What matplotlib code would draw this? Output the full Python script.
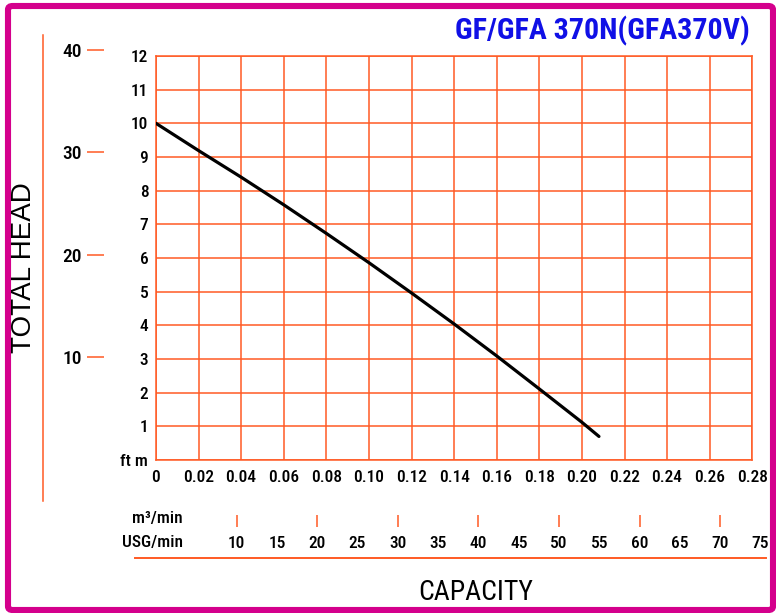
import matplotlib
matplotlib.use('Agg')
import matplotlib.pyplot as plt
from matplotlib.lines import Line2D
from matplotlib.patches import FancyBboxPatch

# ---------------- data ----------------
flow_m3min = [0.0, 0.02, 0.04, 0.06, 0.08, 0.10, 0.12, 0.14, 0.16, 0.18, 0.20, 0.208]
head_m = [10.0, 9.19, 8.40, 7.58, 6.73, 5.86, 4.96, 4.04, 3.09, 2.11, 1.12, 0.70]

x_ticks = [0, 0.02, 0.04, 0.06, 0.08, 0.10, 0.12, 0.14, 0.16, 0.18, 0.20, 0.22, 0.24, 0.26, 0.28]
x_tick_labels = ['0', '0.02', '0.04', '0.06', '0.08', '0.10', '0.12', '0.14', '0.16',
                 '0.18', '0.20', '0.22', '0.24', '0.26', '0.28']
y_ticks = [0, 1, 2, 3, 4, 5, 6, 7, 8, 9, 10, 11, 12]
y_tick_labels = ['ft m', '1', '2', '3', '4', '5', '6', '7', '8', '9', '10', '11', '12']
ft_ticks = [10, 20, 30, 40]
usg_marked = [10, 20, 30, 40, 50, 60, 70]
usg_unmarked = [15, 25, 35, 45, 55, 65, 75]
title = 'GF/GFA 370N(GFA370V)'

M_TO_FT = 3.28084
M3_TO_USG = 264.172

# ---------------- style ----------------
ORANGE = '#FF5A24'
MAGENTA = '#D4008C'
BLUE = '#1010E6'
INK = '#000000'
NARROW = ['Roboto Condensed', 'Liberation Sans Narrow', 'Roboto', 'DejaVu Sans']
plt.rcParams['font.family'] = NARROW
plt.rcParams['font.weight'] = 'medium'

W, H = 776, 613
fig = plt.figure(figsize=(W / 100, H / 100), dpi=100)
fig.patch.set_facecolor('white')

L, R, T, B = 156, 752.3, 56, 460
ax = fig.add_axes([L / W, 1 - B / H, (R - L) / W, (B - T) / H])
ax.set_xlim(0, 0.28)
ax.set_ylim(0, 12)
ax.set_xticks(x_ticks)
ax.set_xticklabels(x_tick_labels)
ax.set_yticks(y_ticks)
ax.set_yticklabels(y_tick_labels)
ax.tick_params(axis='both', length=0, labelsize=12.5, labelcolor=INK)
ax.tick_params(axis='x', pad=7)
ax.tick_params(axis='y', pad=5.5)
ax.grid(True, color=ORANGE, lw=1.1)
for s in ax.spines.values():
    s.set_color(ORANGE)
    s.set_linewidth(1.1)

ax.plot(flow_m3min, head_m, color='black', lw=2.3, solid_capstyle='round',
        solid_joinstyle='round', zorder=5)

# auxiliary axes for the feet and USG/min scales (same units-per-pixel as main axes,
# but extended so that 40 ft and 75 USG/min fit)
XT, XR = 36, 770
aux = fig.add_axes([L / W, 1 - B / H, (XR - L) / W, (B - XT) / H])
aux.patch.set_visible(False)
aux.set_ylim(0, 12 * M_TO_FT * (B - XT) / (B - T))
aux.set_xlim(0, 0.28 * M3_TO_USG * (XR - L) / (R - L))
for s in ['top', 'right']:
    aux.spines[s].set_visible(False)
aux.spines['left'].set_position(('axes', (104 - L) / (XR - L)))
aux.spines['bottom'].set_position(('axes', (B - 515) / (B - XT)))
aux.spines['left'].set_color('none')
aux.spines['bottom'].set_color('none')

aux.set_yticks(ft_ticks)
aux.set_yticklabels([str(v) for v in ft_ticks])
aux.tick_params(axis='y', length=12.2, width=1.1, color=ORANGE, pad=3.6,
                labelsize=14, labelcolor=INK)

aux.set_xticks(usg_marked)
aux.set_xticklabels([str(v) for v in usg_marked])
aux.set_xticks(usg_unmarked, labels=[str(v) for v in usg_unmarked], minor=True)
aux.tick_params(axis='x', which='major', length=8.6, width=1.1, color=ORANGE, pad=6.5,
                labelsize=12.5, labelcolor=INK)
aux.tick_params(axis='x', which='minor', length=0, pad=15.1, labelsize=12.5, labelcolor=INK)

# decorative lines
fig.add_artist(Line2D([42.7 / W, 42.7 / W], [1 - 35 / H, 1 - 501 / H],
                      color=ORANGE, lw=1.1, transform=fig.transFigure))
fig.add_artist(Line2D([135 / W, 766 / W], [1 - 558.3 / H, 1 - 558.3 / H],
                      color=ORANGE, lw=1.4, transform=fig.transFigure))

# texts
fig.text(24 / W, 1 - 268 / H, 'TOTAL HEAD', rotation=90, ha='center', va='center',
         fontsize=20, color=INK, family=['Liberation Sans', 'DejaVu Sans'], fontweight='normal')
fig.text(476 / W, 1 - 592 / H, 'CAPACITY', ha='center', va='center',
         fontsize=20, color=INK, fontweight='normal')
fig.text(183 / W, 1 - 519 / H, 'm³/min', ha='right', va='center', fontsize=12.5, color=INK)
fig.text(183 / W, 1 - 543 / H, 'USG/min', ha='right', va='center', fontsize=12.5, color=INK)
fig.text(750 / W, 1 - 39 / H, title, ha='right', va='baseline', fontsize=21.6,
         fontweight='bold', color=BLUE)

# border
fig.add_artist(FancyBboxPatch((8 / W, 1 - 610 / H), (773 - 8) / W, (610 - 6) / H,
                              boxstyle='round,pad=0,rounding_size=0.006',
                              transform=fig.transFigure, facecolor='none',
                              edgecolor=MAGENTA, lw=4.4))

fig.savefig('out.png', dpi=100)
